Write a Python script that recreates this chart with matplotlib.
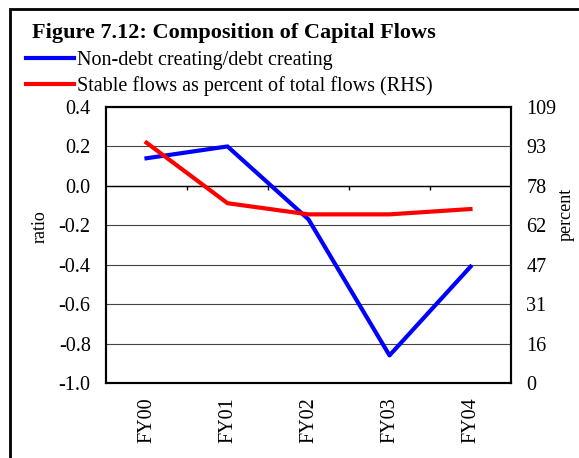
import matplotlib.pyplot as plt
import matplotlib.patches as patches
import numpy as np

plt.rcParams['font.family'] = ['Liberation Serif', 'DejaVu Serif']

years = ['FY00', 'FY01', 'FY02', 'FY03', 'FY04']
ratio = [0.14, 0.20, -0.17, -0.86, -0.41]
stable_pct = [94.9, 71.0, 66.6, 66.6, 68.7]
left_ticks = [-1.0, -0.8, -0.6, -0.4, -0.2, 0.0, 0.2, 0.4]
right_labels = ['0', '16', '31', '47', '62', '78', '93', '109']

fs = 14.5

fig = plt.figure(figsize=(5.79, 4.58), dpi=100)
ax = fig.add_axes([106 / 579, 1 - 383 / 458, 405 / 579, 276 / 458])
ax2 = ax.twinx()

x = np.arange(len(years))
ax.set_xlim(-0.5, len(years) - 0.5)
ax.set_ylim(-1.0, 0.4)
ax.set_yticks(left_ticks)
ax.set_yticklabels(['%.1f' % v for v in left_ticks])
ax.yaxis.grid(True, color='#444444', linewidth=0.8)
ax.set_axisbelow(True)
ax.tick_params(axis='y', length=0, pad=11, labelsize=fs)
ax.set_xticks(x)
ax.set_xticklabels(years, rotation=90, fontsize=fs)
ax.tick_params(axis='x', length=0, pad=10.5)
ax.set_ylabel('ratio', fontsize=13, ha='center', va='center')
ax.yaxis.set_label_coords(-0.163, 0.565)

# zero line with category separator ticks
ax.axhline(0, color='black', linewidth=1.0)
ax.vlines(x[:-1] + 0.5, -0.02, 0, color='black', linewidth=1.0)

l1, = ax.plot(x, ratio, color='#0000ff', linewidth=3, zorder=3)

ax2.set_ylim(0, 109)
ax2.set_yticks(np.linspace(0, 109, len(right_labels)))
ax2.set_yticklabels(right_labels)
ax2.tick_params(axis='y', length=0, pad=11, labelsize=fs)
ax2.set_ylabel('percent', fontsize=13, ha='center', va='center')
ax2.yaxis.set_label_coords(1.136, 0.612)
l2, = ax2.plot(x, stable_pct, color='#ff0000', linewidth=3, zorder=3)

for a in (ax, ax2):
    for s in a.spines.values():
        s.set_linewidth(1.5)
        s.set_color('black')

fig.text(32 / 579, 1 - 33 / 458, 'Figure 7.12: Composition of Capital Flows',
         fontsize=16, fontweight='bold', va='center')
fig.legend([l1, l2],
           ['Non-debt creating/debt creating',
            'Stable flows as percent of total flows (RHS)'],
           loc='upper left', bbox_to_anchor=(26 / 579, 1 - 51 / 458),
           frameon=False, fontsize=fs, handlelength=2.4, handletextpad=0.15,
           labelspacing=0.3, borderpad=0, borderaxespad=0)

fig.patches.append(patches.Rectangle((10 / 579, -0.1), 1.2, 1 - 9 / 458 + 0.1,
                                     transform=fig.transFigure, fill=False,
                                     edgecolor='black', linewidth=2))

fig.savefig('out.png', dpi=100)
